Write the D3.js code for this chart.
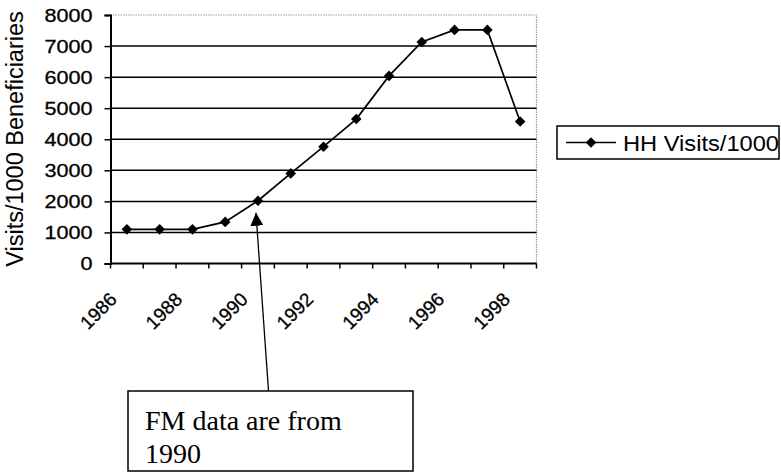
<!DOCTYPE html>
<html>
<head>
<meta charset="utf-8">
<script src="https://cdn.jsdelivr.net/npm/d3@7"></script>
<style>
  body { margin: 0; background: #fff; }
  svg { display: block; }
</style>
</head>
<body>
<script>
// data
const years = [1986, 1987, 1988, 1989, 1990, 1991, 1992, 1993, 1994, 1995, 1996, 1997, 1998];
const visits = [1100, 1100, 1100, 1340, 2020, 2900, 3760, 4650, 6040, 7130, 7520, 7520, 4570];
const yTicks = [0, 1000, 2000, 3000, 4000, 5000, 6000, 7000, 8000];
const xLabels = [1986, 1988, 1990, 1992, 1994, 1996, 1998];
const seriesName = "HH Visits/1000";
const yTitle = "Visits/1000 Beneficiaries";
const noteLines = ["FM data are from", "1990"];
const noteYear = 1990;

const width = 781, height = 475;
const plotL = 110.5, plotR = 536.5, plotT = 15, plotB = 263.5;

const svg = d3.select("body").append("svg")
  .attr("width", width)
  .attr("height", height);

svg.append("rect").attr("width", width).attr("height", height).attr("fill", "#fff");

const x = d3.scaleBand().domain(years).range([plotL, plotR]).padding(0);
const y = d3.scaleLinear().domain([0, 8000]).range([plotB, plotT]);
const cx = d => x(d) + x.bandwidth() / 2;

// plot border (top and right, dotted grey)
svg.append("path")
  .attr("d", `M${plotL},${plotT}H${plotR}V${plotB}`)
  .attr("fill", "none")
  .attr("stroke", "#999")
  .attr("stroke-width", 1.2)
  .attr("stroke-dasharray", "1.5,1");

// gridlines
svg.selectAll(".grid")
  .data(yTicks.filter(t => t > 0 && t < 8000))
  .enter().append("line")
  .attr("x1", plotL).attr("x2", plotR)
  .attr("y1", d => y(d)).attr("y2", d => y(d))
  .attr("stroke", "#000")
  .attr("stroke-width", 1.5);

// y axis
const yAxis = svg.append("g")
  .attr("transform", `translate(${plotL},0)`)
  .call(d3.axisLeft(y).tickValues(yTicks).tickSize(6).tickPadding(12).tickFormat(d3.format("d")));
yAxis.select(".domain").attr("stroke", "#000").attr("stroke-width", 2);
yAxis.selectAll(".tick line").attr("stroke", "#000").attr("stroke-width", 1.5);
yAxis.selectAll(".tick text")
  .attr("font-family", "'Liberation Sans', Arial, sans-serif")
  .attr("font-size", 18)
  .attr("fill", "#000")
  .attr("stroke", "#000").attr("stroke-width", 0.3)
  .attr("dy", "0.36em")
  .attr("textLength", d => String(d).length * 12)
  .attr("lengthAdjust", "spacingAndGlyphs");

// x axis: ticks at category boundaries
const xAxis = svg.append("g")
  .attr("transform", `translate(0,${plotB})`);
xAxis.append("line")
  .attr("x1", plotL).attr("x2", plotR)
  .attr("stroke", "#000").attr("stroke-width", 2);
xAxis.selectAll(".xt")
  .data(years.concat([null]))
  .enter().append("line")
  .attr("x1", (d, i) => i < years.length ? x(d) : x(years[years.length - 1]) + x.bandwidth())
  .attr("x2", (d, i) => i < years.length ? x(d) : x(years[years.length - 1]) + x.bandwidth())
  .attr("y1", 0).attr("y2", 5)
  .attr("stroke", "#000").attr("stroke-width", 1.5);

xAxis.selectAll(".xl")
  .data(xLabels)
  .enter().append("text")
  .attr("transform", d => `translate(${cx(d) - 9},37) rotate(-45)`)
  .attr("text-anchor", "end")
  .attr("font-family", "'Liberation Sans', Arial, sans-serif")
  .attr("font-size", 19)
  .attr("stroke", "#000").attr("stroke-width", 0.3)
  .text(d => d);

// y title
svg.append("text")
  .attr("transform", `translate(23,139) rotate(-90)`)
  .attr("text-anchor", "middle")
  .attr("font-family", "'Liberation Sans', Arial, sans-serif")
  .attr("font-size", 23.5)
  .text(yTitle);

// series line
const line = d3.line()
  .x((d, i) => cx(years[i]))
  .y(d => y(d));

svg.append("path")
  .datum(visits)
  .attr("d", line)
  .attr("fill", "none")
  .attr("stroke", "#000")
  .attr("stroke-width", 1.7);

const diamond = d3.symbol().type(d3.symbolDiamond2).size(72);
svg.selectAll(".pt")
  .data(visits)
  .enter().append("path")
  .attr("transform", (d, i) => `translate(${cx(years[i])},${y(d)})`)
  .attr("d", diamond)
  .attr("fill", "#000");

// legend
const lg = svg.append("g").attr("transform", "translate(557,126)");
lg.append("rect")
  .attr("width", 222).attr("height", 33)
  .attr("fill", "#fff").attr("stroke", "#000").attr("stroke-width", 1.5);
lg.append("line")
  .attr("x1", 9).attr("x2", 59).attr("y1", 16.5).attr("y2", 16.5)
  .attr("stroke", "#000").attr("stroke-width", 1.7);
lg.append("path")
  .attr("transform", "translate(34,16.5)")
  .attr("d", diamond)
  .attr("fill", "#000");
lg.append("text")
  .attr("x", 66).attr("y", 24.5)
  .attr("font-family", "'Liberation Sans', Arial, sans-serif")
  .attr("font-size", 22)
  .attr("textLength", 156)
  .attr("lengthAdjust", "spacingAndGlyphs")
  .text(seriesName);

// annotation box with arrow to the 1990 point
const idx = years.indexOf(noteYear);
const tipX = cx(noteYear) - 2, tipY = y(visits[idx]) + 12;
const box = { x: 128, y: 391, w: 285, h: 80 };

svg.append("defs").append("marker")
  .attr("id", "arrow")
  .attr("viewBox", "0 0 10 10")
  .attr("refX", 10).attr("refY", 5)
  .attr("markerWidth", 13).attr("markerHeight", 14)
  .attr("markerUnits", "userSpaceOnUse")
  .attr("orient", "auto")
  .append("path").attr("d", "M0,0L10,5L0,10Z").attr("fill", "#000");

svg.append("line")
  .attr("x1", 268.5).attr("y1", box.y)
  .attr("x2", tipX).attr("y2", tipY)
  .attr("stroke", "#000").attr("stroke-width", 1.3)
  .attr("marker-end", "url(#arrow)");

svg.append("rect")
  .attr("x", box.x).attr("y", box.y)
  .attr("width", box.w).attr("height", box.h)
  .attr("fill", "#fff").attr("stroke", "#000").attr("stroke-width", 1.5);

svg.append("text")
  .attr("font-family", "'Liberation Serif', 'Times New Roman', serif")
  .attr("font-size", 28)
  .selectAll("tspan")
  .data(noteLines)
  .enter().append("tspan")
  .attr("x", 145)
  .attr("y", (d, i) => 430 + i * 33)
  .text(d => d);
</script>
</body>
</html>
